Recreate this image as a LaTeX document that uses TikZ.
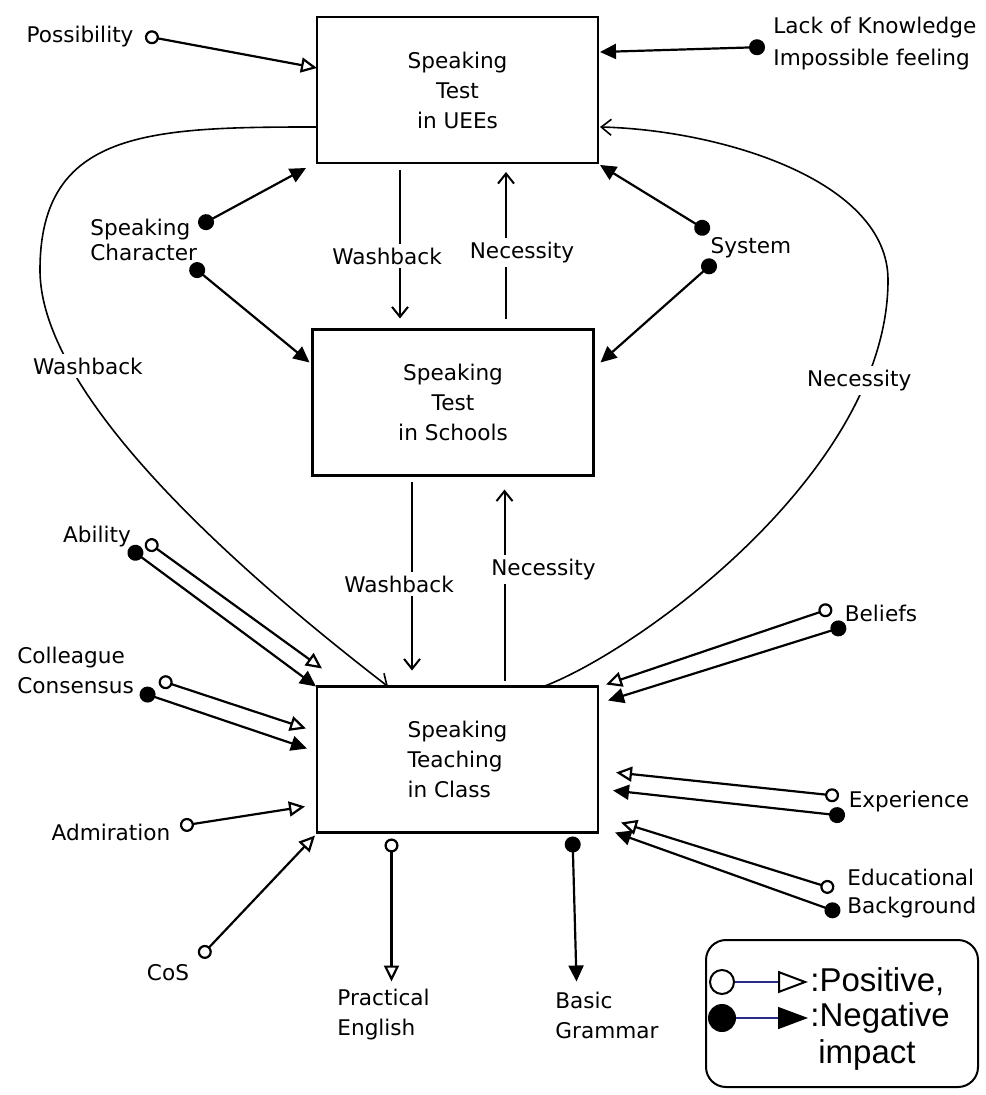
\documentclass[tikz,border=0pt]{standalone}
\usepackage{fontspec}
\setmainfont{DejaVu Sans}
\newfontfamily\legendfont{Liberation Sans}
\usetikzlibrary{arrows.meta, calc, positioning}
\definecolor{legblue}{HTML}{2B2B8C}
\tikzset{
	boxnode/.style={draw, line width=1.3pt, minimum width=140.5pt, minimum height=73pt,
	  outer sep=0pt, align=center, font=\fontsize{10.8}{15}\selectfont}
}
\tikzset{
	factor/.style={inner sep=0pt, font=\fontsize{10.8}{15}\selectfont},
	linklabel/.style={fill=white, inner sep=2pt, font=\fontsize{10.8}{15}\selectfont},
	legendtext/.style={inner sep=0pt, anchor=west, font=\legendfont\fontsize{16.5}{20}\selectfont}
}
\tikzset{
	posimpact/.style={line width=1.1pt,
	  {Circle[open,fill=white,length=7pt]}-{Triangle[open,fill=white,length=8pt,width=7.5pt]}},
	negimpact/.style={line width=1.1pt,
	  {Circle[length=8pt]}-{Triangle[length=8pt,width=7.5pt]}},
	flowarrow/.style={line width=1pt, -{Straight Barb[length=5pt,width=8pt]}},
	loopcurve/.style={line width=0.8pt, -{Straight Barb[length=5pt,width=8pt]}}
}

\begin{document}
\begin{tikzpicture}[x=0.5pt, y=-0.5pt]
      \useasboundingbox (0,0) rectangle (985,1095);
      % the three boxes
      \node[boxnode] (uee) at (457.5,90) {Speaking\\Test\\in UEEs};
      \node[boxnode] (sch) at (453,402.5) {Speaking\\Test\\in Schools};
      \node[boxnode, align=left] (cls) at (457.5,759.5) {Speaking\\Teaching\\in Class};
      % factor labels
      \foreach \n/\x/\y/\t in {poss/80/37/Possibility, sys/751/248/System, abl/97/537/Ability,
        adm/111/832/Admiration, cos/168/973/CoS, bel/881/613/Beliefs, exp/909/802/Experience}
        \node[factor] (\n) at (\x,\y) {\t};
      \node[factor, anchor=west, align=left, font=\fontsize{10.8}{16}\selectfont] (lack) at (773,44) {Lack of Knowledge\\Impossible feeling};
      \node[factor, anchor=west, align=left, font=\fontsize{10.8}{12.5}\selectfont] (spch) at (90,240) {Speaking\\Character};
      \node[factor, anchor=west, align=left] (coll) at (17,670) {Colleague\\Consensus};
      \node[factor, anchor=west, align=left] (prac) at (337,1015) {Practical\\English};
      \node[factor, anchor=west, align=left] (gram) at (555,1015) {Basic\\Grammar};
      \node[factor, anchor=west, align=left, font=\fontsize{10.8}{14}\selectfont] (edu) at (847,894) {Educational\\Background};
      % dots next to the factors
      \foreach \n/\x/\y in {posso/145/36, lacko/765/47, spchA/199/226, spchB/191/265,
        sysA/709/232, sysB/715/261, ablo/146/541, ablf/129/548, collo/159/680, collf/140/692,
        admo/180/826, coso/200/957, belo/832/608, belf/846/626, expo/839/796, expf/845/816,
        eduo/834/889, eduf/840/913}
        \coordinate (\n) at (\x,\y);
      % impacts on the UEE test
      \draw[posimpact] (posso) -- ($(uee.west)+(0,-22)$);
      \draw[negimpact] (lacko) -- ($(uee.east)+(2,-38)$);
      \draw[negimpact] (spchA) -- ($(uee.south west)+(-11,5)$);
      \draw[negimpact] (sysA) -- ($(uee.south east)+(2,2)$);
      % impacts on the school test
      \draw[negimpact] (spchB) -- ($(sch.north west)+(-3,33)$);
      \draw[negimpact] (sysB) -- ($(sch.north east)+(7,33)$);
      % impacts on teaching in class
      \draw[posimpact] (ablo) -- ($(cls.north west)+(5,-18)$);
      \draw[negimpact] (ablf) -- ($(cls.north west)+(-1,0)$);
      \draw[posimpact] (collo) -- ($(cls.west)+(-11,-31)$);
      \draw[negimpact] (collf) -- ($(cls.west)+(-10,-11)$);
      \draw[posimpact] (admo) -- ($(cls.west)+(-12,47)$);
      \draw[posimpact] (coso) -- ($(cls.south west)+(-2,3)$);
      \draw[posimpact] (belo) -- ($(cls.north east)+(8,-2)$);
      \draw[negimpact] (belf) -- ($(cls.north east)+(10,14)$);
      \draw[posimpact] (expo) -- ($(cls.east)+(18,13)$);
      \draw[negimpact] (expf) -- ($(cls.east)+(15,31)$);
      \draw[posimpact] (eduo) -- ($(cls.south east)+(23,-10)$);
      \draw[negimpact] (eduf) -- ($(cls.south east)+(17,0)$);
      % outcomes of teaching in class
      \draw[posimpact] ($(cls.south)+(-66,6)$) -- ($(cls.south)+(-66,149)$);
      \draw[negimpact] ($(cls.south)+(115,4)$) -- ($(cls.south)+(119,149)$);
      % washback and necessity between the boxes
      \draw[flowarrow, shorten >=5.5pt] ([xshift=-28.75pt,yshift=-3.5pt]uee.south)
        -- node[linklabel, pos=0.54, xshift=-6.5pt] {Washback} ([xshift=-28.75pt]uee.south |- sch.north);
      \draw[flowarrow, shorten >=4.5pt] ([xshift=26.5pt,yshift=5pt]sch.north)
        -- node[linklabel, pos=0.43, xshift=8pt] {Necessity} ([xshift=26.5pt]sch.north |- uee.south);
      \draw[flowarrow, shorten >=8pt] ([xshift=-20.5pt,yshift=-3pt]sch.south)
        -- node[linklabel, pos=0.5, xshift=-6.5pt] {Washback} ([xshift=-20.5pt]sch.south |- cls.north);
      \draw[flowarrow, shorten >=7pt] ([xshift=23.5pt,yshift=3pt]cls.north)
        -- node[linklabel, pos=0.54, xshift=19.5pt] {Necessity} ([xshift=23.5pt]cls.north |- sch.south);
      % long loops
      \draw[loopcurve] ($(uee.west)+(0,37)$) .. controls (150,127) and (40,130) .. (40,270)
        .. controls (40,400) and (250,580) .. ($(cls.north west)+(71,0)$)
        node[linklabel, pos=0.23, xshift=9pt] {Washback};
      \draw[loopcurve] ($(cls.north)+(86,0)$) .. controls (640,650) and (888,470) .. (888,280)
        node[linklabel, pos=0.82, xshift=-3.5pt] {Necessity}
        .. controls (888,180) and (720,130) .. ($(uee.east)+(2,37)$);
      % legend
      \node[draw, line width=1pt, rounded corners=10pt, minimum width=136pt, minimum height=73.5pt] (legend) at (842,1013.5) {};
      \coordinate (lgpa) at (709,982);
      \coordinate (lgpb) at (808,982);
      \coordinate (lgna) at (708,1018);
      \coordinate (lgnb) at (808,1018);
      \draw[legblue, line width=0.8pt,
        {Circle[open,fill=white,color=black,line width=1pt,length=13pt]}-{Triangle[open,fill=white,color=black,line width=1pt,length=15pt,width=11pt]}]
        (lgpa) -- (lgpb);
      \draw[legblue, line width=0.8pt,
        {Circle[color=black,length=14pt]}-{Triangle[color=black,length=15pt,width=11pt]}]
        (lgna) -- (lgnb);
      \node[legendtext] (lgpos) at (810,982) {:Positive,};
      \node[legendtext] (lgneg) at (810,1018) {:Negative};
      \node[legendtext] (lgimp) at (818,1055) {impact};
    \end{tikzpicture}
\end{document}
